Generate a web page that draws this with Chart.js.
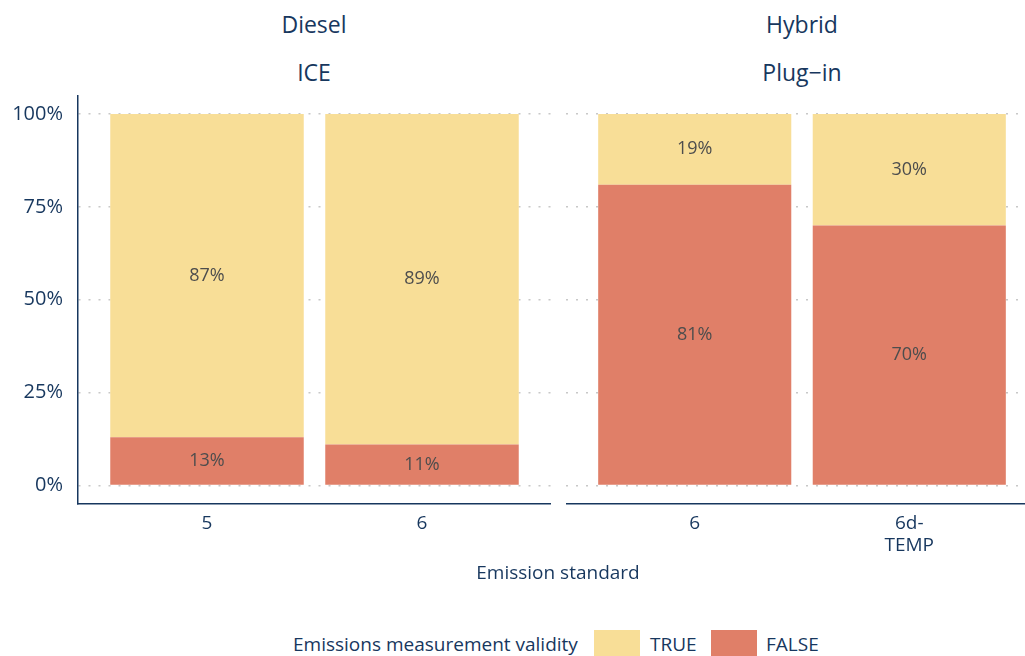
<!DOCTYPE html>
<html>
<head>
<meta charset="utf-8">
<script src="https://cdn.jsdelivr.net/npm/chart.js@4"></script>
<style>
  html, body { margin: 0; padding: 0; background: #fff; }
  body { width: 1025px; height: 656px; overflow: hidden; position: relative; font-family: "Open Sans", sans-serif; color: #17375e; }
  canvas { position: absolute; top: 0; }
  #leftChart { left: 0; }
  #rightChart { left: 566px; }
  .strip { position: absolute; width: 300px; text-align: center; font-size: 23px; line-height: 30px; }
  .txt { position: absolute; font-size: 19px; line-height: 22px; white-space: nowrap; }
  .key { position: absolute; width: 46px; height: 30px; top: 630px; }
</style>
</head>
<body>
<div class="strip" id="s1a" style="left:164px; top:9px;"></div>
<div class="strip" id="s1b" style="left:164px; top:57px;"></div>
<div class="strip" id="s2a" style="left:652px; top:9px;"></div>
<div class="strip" id="s2b" style="left:652px; top:57px;"></div>

<canvas id="leftChart" width="551" height="564"></canvas>
<canvas id="rightChart" width="472" height="564"></canvas>

<div class="txt" style="left:408px; width:300px; text-align:center; top:561px;">Emission standard</div>
<div class="txt" style="left:293px; top:633px;">Emissions measurement validity</div>
<div class="key" style="left:594px; background:#f8de97;"></div>
<div class="txt" style="left:650px; top:633px;">TRUE</div>
<div class="key" style="left:711px; background:#e07f68;"></div>
<div class="txt" style="left:766px; top:633px;">FALSE</div>

<script>
// ----- DATA -----
const stripICE = ["Diesel", "ICE"];
const stripPHEV = ["Hybrid", "Plug\u2212in"];
const standardsICE = ["5", "6"];
const standardsPHEV = ["6", ["6d-", "TEMP"]];
const validICE = [87, 89];
const invalidICE = [13, 11];
const validPHEV = [19, 30];
const invalidPHEV = [81, 70];
const yTicks = [0, 25, 50, 75, 100];

const NAVY = "#17375e";
const YELLOW = "#f8de97";
const RED = "#e07f68";

document.getElementById("s1a").textContent = stripICE[0];
document.getElementById("s1b").textContent = stripICE[1];
document.getElementById("s2a").textContent = stripPHEV[0];
document.getElementById("s2b").textContent = stripPHEV[1];

// ----- LABELS INSIDE BARS -----
const segLabels = {
    id: "segLabels",
    afterDatasetsDraw(chart) {
        const ctx = chart.ctx;
        ctx.save();
        ctx.font = "18px 'Open Sans'";
        ctx.fillStyle = "#4d4d4d";
        ctx.textAlign = "center";
        ctx.textBaseline = "middle";
        chart.data.datasets.forEach((ds, i) => {
            chart.getDatasetMeta(i).data.forEach((bar, j) => {
                const p = bar.getCenterPoint();
                ctx.fillText(ds.data[j].y + "%", p.x, p.y);
            });
        });
        ctx.restore();
    }
};

function makePanel(canvasId, labels, valid, invalid, showY) {
    const pts = arr => arr.map((v, i) => ({ x: i + 1, y: v }));
    return new Chart(document.getElementById(canvasId), {
        type: "bar",
        data: {
            datasets: [
                { label: "FALSE", data: pts(invalid), backgroundColor: RED },
                { label: "TRUE", data: pts(valid), backgroundColor: YELLOW }
            ]
        },
        options: {
            responsive: false,
            animation: false,
            events: [],
            layout: { padding: { top: 95.5, left: 0, right: 0, bottom: 0 } },
            datasets: { bar: { categoryPercentage: 1, barPercentage: 0.9 } },
            plugins: { legend: { display: false }, tooltip: { enabled: false } },
            scales: {
                x: {
                    type: "linear",
                    stacked: true,
                    offset: false,
                    min: 0.4,
                    max: labels.length + 0.6,
                    afterBuildTicks: s => { s.ticks = labels.map((_, i) => ({ value: i + 1 })); },
                    afterFit: s => { s.height = 60; },
                    grid: { display: false, drawTicks: false, offset: false },
                    border: { display: true, color: NAVY, width: 1.5 },
                    ticks: {
                        autoSkip: false, maxRotation: 0, padding: 9,
                        color: NAVY, font: { family: "Open Sans", size: 19, lineHeight: 1.15 },
                        callback: v => labels[Math.round(v) - 1]
                    }
                },
                y: {
                    stacked: true,
                    min: -5,
                    max: 105,
                    afterBuildTicks: s => { s.ticks = yTicks.map(v => ({ value: v })); },
                    afterFit: s => { s.width = showY ? 78 : 0; },
                    grid: { color: "#c8c8c8", lineWidth: 1.5, drawTicks: false },
                    border: { display: showY, color: NAVY, width: 1.5, dash: [2, 8] },
                    ticks: {
                        display: showY, padding: 15,
                        color: NAVY, font: { family: "Open Sans", size: 20 },
                        callback: v => v + "%"
                    }
                }
            }
        },
        plugins: [segLabels]
    });
}

makePanel("leftChart", standardsICE, validICE, invalidICE, true);
makePanel("rightChart", standardsPHEV, validPHEV, invalidPHEV, false);
</script>
</body>
</html>
